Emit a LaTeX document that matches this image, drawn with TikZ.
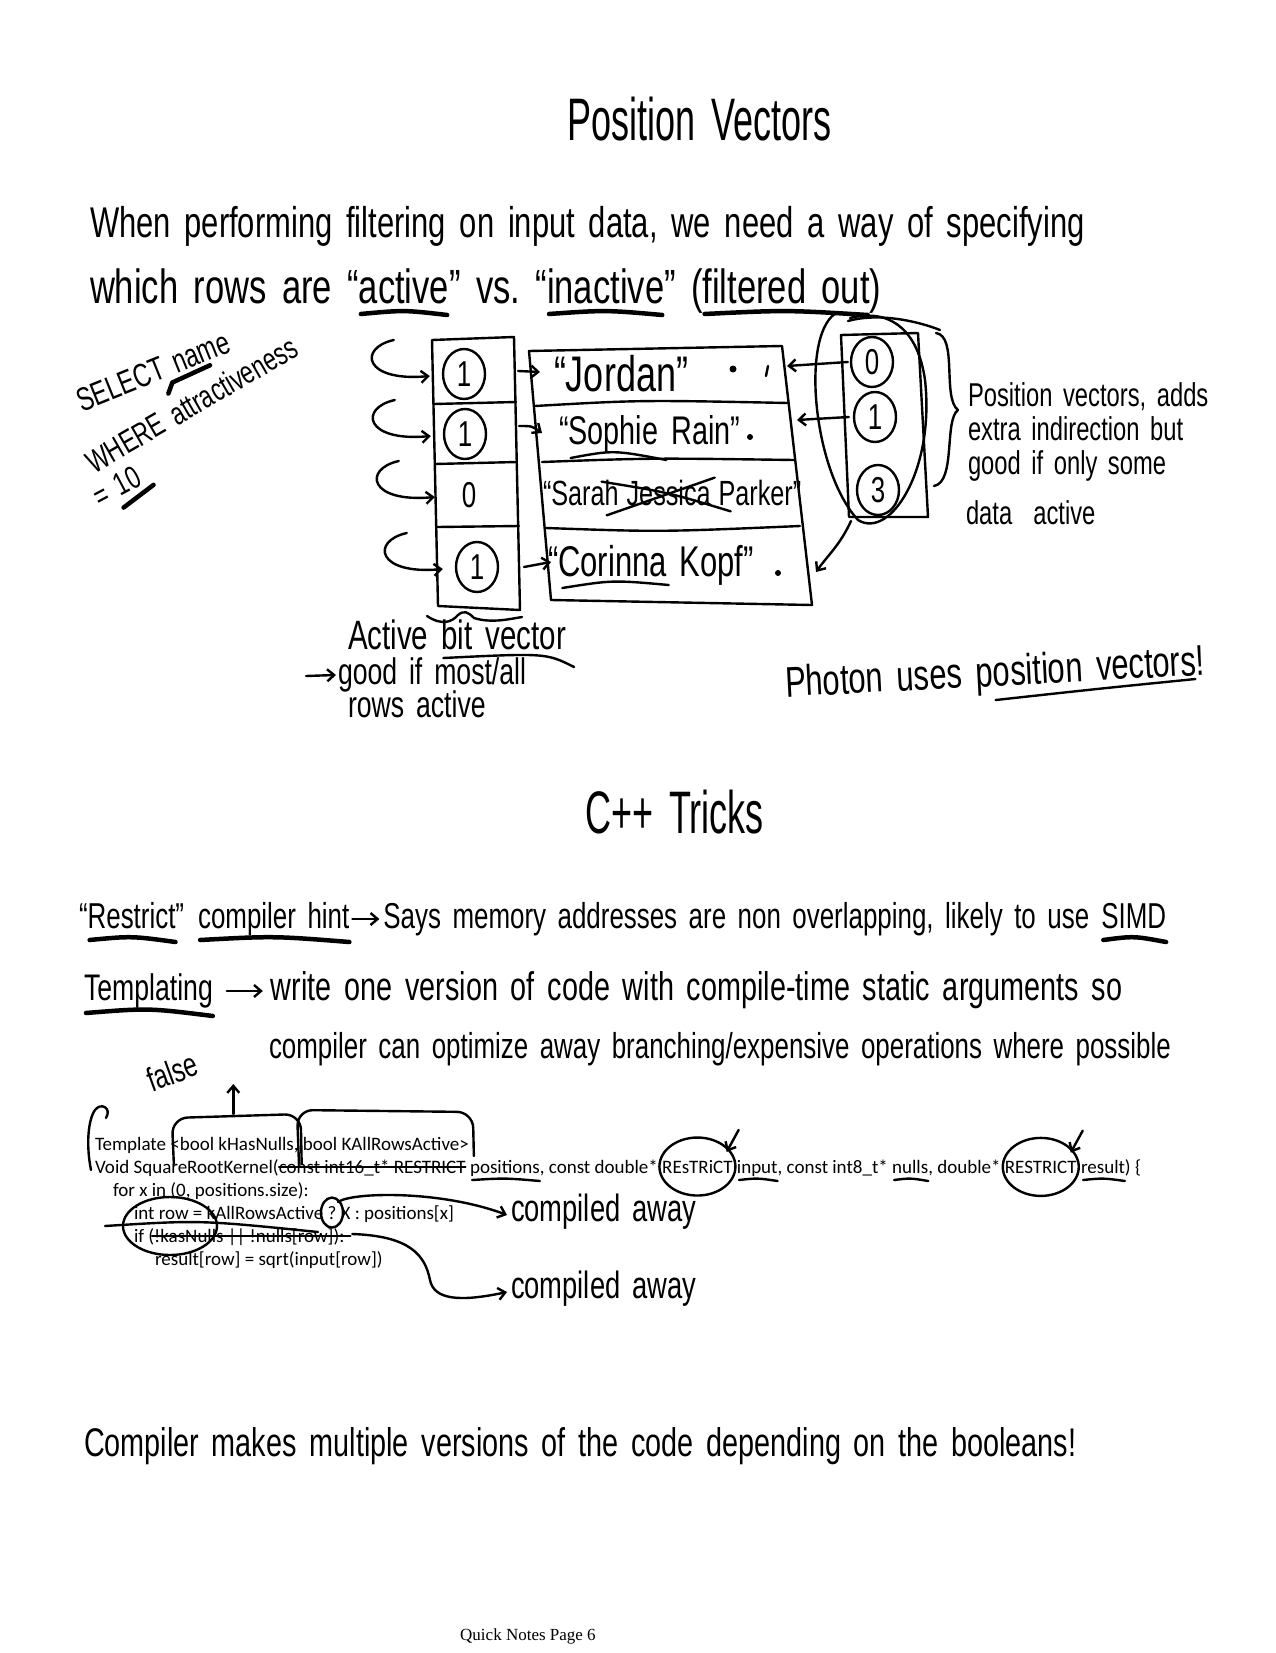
\documentclass[tikz,border=0pt]{standalone}
\usepackage{fontspec}
\setmainfont{Liberation Serif}
\newfontfamily\handfont[FakeStretch=0.72,WordSpace=1.6]{Liberation Sans}
\newfontfamily\titlefont[FakeStretch=0.6,WordSpace=1.6]{Liberation Sans}
\newfontfamily\typedfont{Carlito}
\usetikzlibrary{arrows.meta,calc,shapes.geometric}

\tikzset{
  pen/.style={line width=2.4pt},
  fat/.style={line width=4.5pt},
  hw/.style={font=\handfont\fontsize{#1}{#1}\selectfont, anchor=base west, inner sep=0pt, outer sep=0pt},
  ttl/.style={font=\titlefont\fontsize{#1}{#1}\selectfont, anchor=base west, inner sep=0pt},
  code/.style={font=\typedfont\fontsize{19}{23}\selectfont, anchor=base west, inner sep=0pt, outer sep=0pt},
  digit/.style={font=\handfont\fontsize{36}{36}\selectfont, ellipse, draw, pen, minimum width=42, minimum height=50, inner sep=0pt},
}

\begin{document}
\begin{tikzpicture}[x=1pt,y=-1pt,line cap=round,line join=round,
    >={Straight Barb[length=7pt,width=12pt]}]
  \fill[white] (0,0) rectangle (1275,1653);
  \useasboundingbox (0,0) rectangle (1275,1653);

  % position vectors part
  \node[ttl=60] (title) at (567,141) {Position Vectors};
  \node[hw=43] (l1) at (90,237) {When performing filtering on input data, we need a way of specifying};
  \node[hw=48] (w0) at (90,303) {which rows are “};
  \node[hw=48] (w1) at (w0.base east) {active};
  \node[hw=48] (w2) at (w1.base east) {”\ vs.\ “};
  \node[hw=48] (w3) at (w2.base east) {inactive};
  \node[hw=48] (w4) at (w3.base east) {”\ (};
  \node[hw=48] (w5) at (w4.base east) {filtered out};
  \node[hw=48] (w6) at (w5.base east) {)};
  \foreach \w in {w1,w3,w5}
    \draw[fat] ($(\w.base west)+(2,11)$) .. controls ($(\w.base west)!0.5!(\w.base east)+(0,7)$) .. ($(\w.base east)+(-2,12)$);

  % query
  \node[hw=33,rotate=22] (sq1) at (82,412) {SELECT name};
  \node[hw=32,rotate=30] (sq2) at (94,474) {WHERE attractiveness};
  \node[hw=32,rotate=28] (sq3) at (100,508) {= 10};
  \draw[fat] ($(sq3.base west)!0.45!(sq3.base east)+(4,10)$) -- ($(sq3.base east)+(10,0)$);
  \draw[fat] ($(sq1.base west)!0.6!(sq1.base east)+(-4,18)$) -- ($(sq1.base west)!0.6!(sq1.base east)+(0,7)$) -- ($(sq1.base west)!0.85!(sq1.base east)+(0,5)$);

  % active bit vector
  \draw[pen] (432,340) -- (514,337) -- (520,610) -- (438,606) -- cycle;
  \draw[pen] (434,404) -- (516,402);
  \draw[pen] (435,464) -- (517,462);
  \draw[pen] (437,527) -- (519,526);
  \node[digit] (b1) at (464,374) {1};
  \node[digit] (b2) at (465,434) {1};
  \node[digit,draw=none] (b3) at (469,495) {0};
  \node[digit] (b4) at (477,567) {1};
  \foreach \c in {b1,b2,b3,b4}
    \draw[pen,->] ($(\c.west)+(-48,-34)$) .. controls ($(\c.west)+(-84,-26)$) and ($(\c.west)+(-78,8)$) .. ($(\c.west)+(-12,2)$);
  \draw[pen] (427,616) .. controls (442,626) and (452,622) .. (458,615) .. controls (464,610) and (468,612) .. (474,618) .. controls (490,623) and (505,620) .. (522,617);
  \node[hw=41] (ab0) at (348,649) {Active};
  \node[hw=41] (ab1) at ([xshift=13]ab0.base east) {bit vector};
  \draw[pen] ($(ab1.base west)+(2,9)$) .. controls ($(ab1.base east)+(-20,4)$) .. ($(ab1.base east)+(8,18)$);
  \coordinate (gstart) at (306,676);
  \node[hw=37] (gd1) at (338,684) {good if most/all};
  \draw[pen,->] (gstart) -- ($(gd1.base west)+(-2,-9)$);
  \node[hw=37] (gd2) at (348,717) {rows active};

  % data table
  \draw[pen] (529,351) -- (782,346) -- (812,605) -- (551,600) -- cycle;
  \draw[pen] (535,406) .. controls (640,400) .. (788,403);
  \draw[pen] (542,462) .. controls (650,458) .. (794,460);
  \draw[pen] (546,528) .. controls (660,532) .. (800,526);
  \node[hw=50] (jo) at (554,391) {“Jordan”};
  \fill (733,369) circle (3.5);
  \draw[pen] (768,366) -- (766,376);
  \node[hw=40] (so0) at (559,444) {“};
  \node[hw=40] (so1) at (so0.base east) {Sophie};
  \node[hw=40] (so2) at ([xshift=13]so1.base east) {Rain”};
  \fill (750,437) circle (3);
  \draw[pen] ($(so1.base west)+(2,14)$) .. controls ($(so1.base west)!0.5!(so1.base east)+(0,6)$) .. ($(so1.base east)+(8,16)$);
  \node[hw=35] (sa0) at (543,505) {“Sarah};
  \node[hw=35] (sa1) at ([xshift=8]sa0.base east) {Jessica};
  \node[hw=35] (sa2) at ([xshift=8]sa1.base east) {Parker”};
  \draw[pen] ($(sa1.north west)+(-25,2)$) .. controls ($(sa1.center)+(0,0)$) .. ($(sa1.south east)+(20,6)$);
  \draw[pen] ($(sa1.north east)+(4,-2)$) -- ($(sa1.south west)+(-20,10)$);
  \node[hw=43] (co0) at (548,576) {“};
  \node[hw=43] (co1) at (co0.base east) {Corinna};
  \node[hw=43] (co2) at ([xshift=13]co1.base east) {Kopf”};
  \fill (778,573) circle (3);
  \draw[pen] ($(co1.base west)+(4,12)$) .. controls ($(co1.base west)!0.5!(co1.base east)+(0,4)$) .. ($(co1.base east)+(2,9)$);
  \coordinate (r1w) at (540,372);
  \coordinate (r2w) at (542,433);
  \coordinate (r4w) at (551,562);
  \coordinate (r1e) at (787,366);
  \coordinate (r2e) at (797,420);
  \coordinate (r4e) at (816,572);
  \draw[pen,->] (518,371) -- (r1w);
  \draw[pen,->] (519,426) .. controls (532,426) .. (r2w);
  \draw[pen,->] (524,567) -- (r4w);

  % position vector
  \draw[pen] (841,335) -- (918,333) -- (928,517) -- (849,517) -- cycle;
  \node[digit] (p0) at (872,362) {0};
  \node[digit] (p1) at (875,417) {1};
  \node[digit] (p2) at (878,490) {3};
  \draw[pen] (838,312) .. controls (800,330) and (812,470) .. (858,520) .. controls (890,540) and (935,470) .. (925,380) .. controls (918,330) and (890,308) .. (850,318);
  \draw[pen] (848,321) .. controls (880,312) and (920,322) .. (940,330);
  \draw[pen] (936,333) .. controls (958,336) and (942,398) .. (958,410) .. controls (944,420) and (956,482) .. (934,486);
  \draw[pen,->] ($(p0.west)+(-2,0)$) -- (r1e);
  \draw[pen,->] ($(p1.west)+(-4,0)$) -- (r2e);
  \draw[pen,->] (851,521) .. controls (840,545) and (828,555) .. (r4e);
  \node[hw=33] (pn1) at (968,406) {Position vectors, adds};
  \node[hw=33] (pn2) at (968,440) {extra indirection but};
  \node[hw=33] (pn3) at (968,474) {good if only some};
  \node[hw=33] (pn4) at (966,524) {data\ \ active};

  \node[hw=43,rotate=3] (ph) at (786,697) {Photon uses position vectors!};
  \draw[pen] ($(ph.base west)!0.5!(ph.base east)+(0,14)$) .. controls ($(ph.base west)!0.75!(ph.base east)+(0,8)$) .. ($(ph.base east)+(-10,4)$);

  % c++ tricks part
  \node[ttl=60] (ctitle) at (585,833) {C++ Tricks};
  \node[hw=36] (rs0) at (79,928) {“};
  \node[hw=36] (rs1) at (rs0.base east) {Restrict};
  \node[hw=36] (rs2) at (rs1.base east) {”};
  \node[hw=36] (rs3) at ([xshift=14]rs2.base east) {compiler hint};
  \node[hw=36] (rs4) at ([xshift=34]rs3.base east) {Says memory addresses are non overlapping, likely to use};
  \node[hw=36] (rs5) at ([xshift=12]rs4.base east) {SIMD};
  \draw[pen,->] ($(rs3.base east)+(3,-9)$) -- ($(rs4.base west)+(-4,-9)$);
  \foreach \w in {rs1,rs3,rs5}
    \draw[fat] ($(\w.base west)+(2,12)$) .. controls ($(\w.base west)!0.5!(\w.base east)+(0,8)$) .. ($(\w.base east)+(0,14)$);
  \node[hw=37] (tp0) at (84,1000) {Templating};
  \node[hw=40] (tp1) at ([xshift=58]tp0.base east) {write one version of code with compile-time static arguments so};
  \draw[fat] ($(tp0.base west)+(2,13)$) .. controls ($(tp0.base west)!0.5!(tp0.base east)+(0,8)$) .. ($(tp0.base east)+(0,16)$);
  \draw[pen,->] ($(tp0.base east)+(14,-9)$) -- ($(tp1.base west)+(-8,-9)$);
  \node[hw=36] (tp2) at (269,1058) {compiler can optimize away branching/expensive operations where possible};

  % code
  \node[code] (t0) at (95,1150) {Template <};
  \node[code] (t1) at (t0.base east) {bool kHasNulls,};
  \node[code] (t2) at ([xshift=4.3]t1.base east) {bool KAllRowsActive>};
  \node[code] (v0) at (95,1173) {Void SquareRootKernel(};
  \node[code] (v1) at (v0.base east) {const int16\_t* RESTRICT};
  \node[code] (v2) at ([xshift=4.3]v1.base east) {positions};
  \node[code] (v3) at (v2.base east) {, const double*};
  \node[code] (v4) at ([xshift=4.3]v3.base east) {REsTRiCT};
  \node[code] (v5) at ([xshift=4.3]v4.base east) {input};
  \node[code] (v6) at (v5.base east) {, const int8\_t*};
  \node[code] (v7) at ([xshift=4.3]v6.base east) {nulls};
  \node[code] (v8) at (v7.base east) {, double*};
  \node[code] (v9) at ([xshift=4.3]v8.base east) {RESTRICT};
  \node[code] (v10) at ([xshift=4.3]v9.base east) {result};
  \node[code] (v11) at (v10.base east) {) \{};
  \node[code] (fr) at (113,1196) {for x in (0, positions.size):};
  \node[code] (r0) at (134,1219) {int row = kAllRowsActive};
  \node[code] (r1) at ([xshift=4.3]r0.base east) {?};
  \node[code] (r2) at ([xshift=4.3]r1.base east) {X : positions[x]};
  \node[code] (f0) at (134,1242) {if (!kasNulls};
  \node[code] (f1) at ([xshift=4.3]f0.base east) {|| !nulls[row]):};
  \node[code] (rs) at (155,1265) {result[row] = sqrt(input[row])};

  % scribbles on the code
  \draw[pen] (91,1170) .. controls (86,1145) and (88,1120) .. (95,1110) .. controls (101,1102) and (112,1108) .. (106,1118);
  \draw[pen,rounded corners=16] ($(t1.base west)+(-6,14)$) -- ($(t1.base west)+(-8,-32)$) -- ($(t1.base east)+(2,-36)$) -- ($(t1.base east)+(3,14)$);
  \draw[pen,rounded corners=16] ($(t2.base west)+(-4,14)$) -- ($(t2.base west)+(-6,-40)$) -- ($(t2.base east)+(4,-38)$) -- ($(t2.base east)+(5,6)$);
  \coordinate (fup) at ($(t1.base west)!0.45!(t1.base east)+(0,-36)$);
  \node[hw=34,rotate=20] (fl) at (152,1092) {false};
  \draw[pen,->] (fup) -- ($(fup)+(0,-30)$);
  \draw[line width=1.4pt] ($(v1.base west)+(0,-6)$) -- ($(v1.base east)+(0,-6)$);
  \foreach \w in {v2,v5,v7,v10}
    \draw[pen] ($(\w.base west)+(2,7)$) .. controls ($(\w.base west)!0.5!(\w.base east)+(0,5)$) .. ($(\w.base east)+(0,8)$);
  \foreach \w in {v4,v9}{
    \draw[pen] (\w.center) ellipse [x radius=38, y radius=29];
    \draw[pen,->] ($(\w.north east)+(6,-30)$) -- ($(\w.north east)+(-6,-8)$);
  }
  \draw[pen] (r1.center) ellipse [x radius=11, y radius=15];
  \node[hw=38] (ca1) at (511,1221) {compiled away};
  \node[hw=38] (ca2) at (511,1298) {compiled away};
  \draw[pen,->] ($(r1.north)+(6,-4)$) .. controls ($(r1.north)+(20,-14)$) and (440,1190) .. ($(ca1.base west)+(-4,-6)$);
  \draw[pen] (170,1226) ellipse [x radius=47, y radius=29];
  \draw[pen] (105,1226) .. controls (200,1220) .. (318,1232);
  \draw[pen] ($(f0.base west)+(18,-6)$) -- ($(f1.base east)+(6,-6)$);
  \draw[pen,->] ($(f1.base east)+(8,-8)$) .. controls (410,1236) and (425,1255) .. (430,1280) .. controls (434,1300) and (460,1302) .. ($(ca2.base west)+(-4,-6)$);

  \node[hw=40] (cm) at (84,1456) {Compiler makes multiple versions of the code depending on the booleans!};
  \node[font=\fontsize{17}{17}\selectfont, anchor=base west, inner sep=0pt] (pg) at (460,1640) {Quick Notes Page 6};
\end{tikzpicture}
\end{document}
